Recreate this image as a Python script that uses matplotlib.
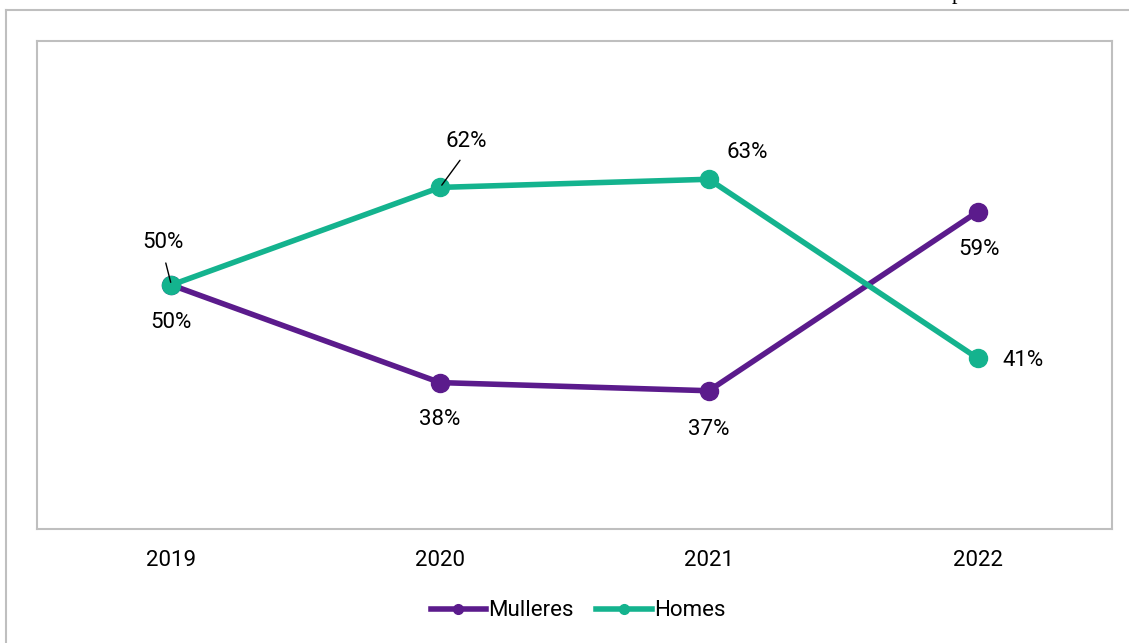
import matplotlib
matplotlib.use("Agg")
import matplotlib.pyplot as plt
from matplotlib.lines import Line2D

plt.rcParams['font.family'] = ['Roboto', 'DejaVu Sans']

years = ['2019', '2020', '2021', '2022']
mulleres = [50, 38, 37, 59]
homes = [50, 62, 63, 41]

purple = '#5b1b8c'
teal = '#14b38e'
grey = '#bfbfbf'

fig = plt.figure(figsize=(11.29, 6.43), dpi=100)
ax = fig.add_axes([37 / 1129, 114 / 643, 1075 / 1129, 488 / 643])

x = list(range(len(years)))
ax.plot(x, mulleres, color=purple, lw=4, marker='o', ms=13, zorder=3)
ax.plot(x, homes, color=teal, lw=4, marker='o', ms=13, zorder=4)

ax.set_xlim(-0.5, 3.5)
ax.set_ylim(20, 80)
ax.set_xticks(x)
ax.set_xticklabels(years, fontsize=16)
ax.set_yticks([])
ax.tick_params(axis='x', length=0, pad=15)
for s in ax.spines.values():
    s.set_color(grey)
    s.set_linewidth(1.5)

# data labels: offsets in pixels from the point
m_offsets = [(0, -38), (0, -37), (0, -39), (1, -38)]
h_offsets = [(-8, 42), (26, 46), (38, 27), (45, -2)]
h_leader = [True, True, False, False]

for i, v in enumerate(mulleres):
    ax.annotate(f'{v}%', (i, v), xytext=m_offsets[i], textcoords='offset pixels',
                ha='center', va='center', fontsize=16)
for i, v in enumerate(homes):
    arrow = None
    if h_leader[i]:
        arrow = dict(arrowstyle='-', color='black', lw=1, shrinkA=5, shrinkB=2, relpos=(0.5, 0))
    ax.annotate(f'{v}%', (i, v), xytext=h_offsets[i], textcoords='offset pixels',
                ha='center', va='center', fontsize=16, arrowprops=arrow, zorder=5)

handles = [Line2D([], [], color=purple, lw=4, marker='o', ms=7),
           Line2D([], [], color=teal, lw=4, marker='o', ms=7)]
fig.legend(handles, ['Mulleres', 'Homes'], loc='center', bbox_to_anchor=(578 / 1129, 1 - 611 / 643),
           ncol=2, frameon=False, fontsize=16, handlelength=2.5, handletextpad=0.1, columnspacing=1.0)

# outer frame
fig.add_artist(Line2D([6 / 1129, 1], [1 - 10 / 643, 1 - 10 / 643], color=grey, lw=1.5, transform=fig.transFigure))
fig.add_artist(Line2D([6 / 1129, 6 / 1129], [0, 1 - 10 / 643], color=grey, lw=1.5, transform=fig.transFigure))
fig.text(957 / 1129, 1 + 1 / 643, 'p', family='Liberation Serif', fontsize=16, ha='center', va='baseline')

fig.savefig('out.png', dpi=100)
